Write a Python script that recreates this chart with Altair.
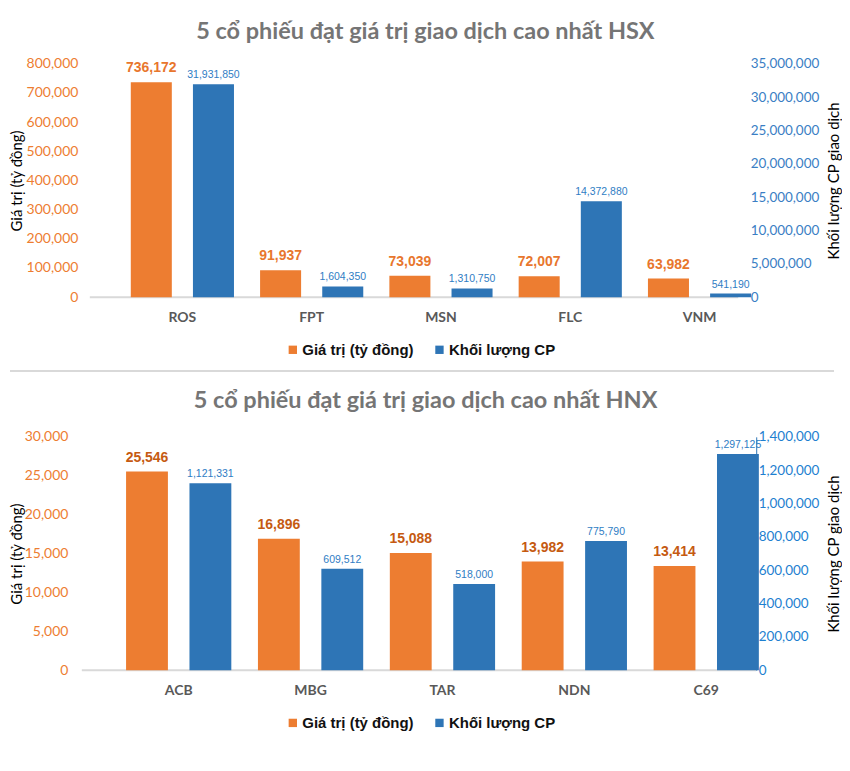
import altair as alt
import pandas as pd

series = ["Giá trị (tỷ đồng)", "Khối lượng CP"]

hsx_title = "5 cổ phiếu đạt giá trị giao dịch cao nhất HSX"
hsx_codes = ["ROS", "FPT", "MSN", "FLC", "VNM"]
hsx_value = [736172, 91937, 73039, 72007, 63982]
hsx_volume = [31931850, 1604350, 1310750, 14372880, 541190]

hnx_title = "5 cổ phiếu đạt giá trị giao dịch cao nhất HNX"
hnx_codes = ["ACB", "MBG", "TAR", "NDN", "C69"]
hnx_value = [25546, 16896, 15088, 13982, 13414]
hnx_volume = [1121331, 609512, 518000, 775790, 1297125]

ORANGE = "#ED7D31"
BLUE = "#2E75B6"
LABELFONT = "Liberation Sans"


def panel(title, codes, values, volumes, vmax, vstep, qmax, qstep, width,
          xrange, base_x0, vlabel_color, qaxis_color, right_domain,
          lpad, tpad, rpad, toffset, sep):
    df_v = pd.DataFrame({"code": codes, "series": series[0], "val": values})
    df_q = pd.DataFrame({"code": codes, "series": series[1], "val": volumes})

    x = alt.X("code:N", sort=codes,
              scale=alt.Scale(paddingInner=0, paddingOuter=0, range=xrange),
              axis=alt.Axis(title=None, labelAngle=0, ticks=False,
                            domain=False,
                            labelFont="Lato", labelFontWeight="bold",
                            labelFontSize=14, labelColor="#595959",
                            labelPadding=13))
    xo = alt.XOffset("series:N", sort=series,
                     scale=alt.Scale(domain=series, paddingInner=0.34,
                                     paddingOuter=0.21))
    color = alt.Color("series:N",
                      scale=alt.Scale(domain=series, range=[ORANGE, BLUE]),
                      legend=alt.Legend(title=None, orient="none",
                                        direction="horizontal",
                                        legendX=196, legendY=279,
                                        symbolType="square", symbolSize=70,
                                        symbolStrokeWidth=0,
                                        labelFont="Liberation Sans",
                                        labelFontWeight="bold",
                                        labelFontSize=15, labelColor="#111111",
                                        columnPadding=18, labelOffset=2))

    yv = alt.Y("val:Q", scale=alt.Scale(domain=[0, vmax], nice=False),
               axis=alt.Axis(title="Giá trị (tỷ đồng)", orient="left",
                             values=list(range(0, vmax + 1, vstep)),
                             format=",.0f", grid=False, ticks=False, domain=False,
                             labelColor=ORANGE, labelFont="Lato",
                             labelFontSize=14, labelPadding=lpad,
                             titleFont="Lato", titleFontSize=15,
                             titleFontWeight="normal", titleColor="#000000",
                             titlePadding=tpad))
    yq = alt.Y("val:Q", scale=alt.Scale(domain=[0, qmax], nice=False),
               axis=alt.Axis(title="Khối lượng CP giao dịch", orient="right",
                             values=list(range(0, qmax + 1, qstep)),
                             format=",.0f", grid=False, ticks=False,
                             domain=right_domain, domainColor=BLUE,
                             labelColor=qaxis_color, labelFont="Lato",
                             labelFontSize=13.5, labelPadding=rpad,
                             titleFont="Lato", titleFontSize=15,
                             titleFontWeight="normal", titleColor="#000000",
                             titleAngle=270, titleBaseline="top",
                             titlePadding=8))

    bars_v = alt.Chart(df_v).mark_bar().encode(x=x, xOffset=xo, y=yv, color=color)
    text_v = alt.Chart(df_v).mark_text(
        baseline="bottom", dy=-7, font=LABELFONT, fontSize=14, fontWeight="bold",
        color=vlabel_color).encode(x=x, xOffset=xo, y=yv,
                                   text=alt.Text("val:Q", format=",.0f"))
    bars_q = alt.Chart(df_q).mark_bar().encode(x=x, xOffset=xo, y=yq, color=color)
    text_q = alt.Chart(df_q).mark_text(
        baseline="bottom", dy=-4, font=LABELFONT, fontSize=10.5,
        color="#2F7DC4").encode(x=x, xOffset=xo, y=yq,
                                text=alt.Text("val:Q", format=",.0f"))

    base = alt.Chart(pd.DataFrame({"a": [0]})).mark_rule(
        color="#D9D9D9", strokeWidth=2).encode(
        x=alt.value(base_x0), x2=alt.value(width), y=alt.value(234))

    layers = [base, alt.layer(bars_v, text_v), alt.layer(bars_q, text_q)]
    if sep:
        rule = alt.Chart(pd.DataFrame({"a": [0]})).mark_rule(
            color="#D9D9D9", strokeWidth=2).encode(
            x=alt.value(-80), x2=alt.value(width + 96), y=alt.value(308))
        layers.append(rule)

    return alt.layer(*layers).resolve_scale(y="independent").properties(
        width=width, height=234,
        title=alt.TitleParams(title, anchor="middle", frame="bounds",
                              font="Lato", fontSize=23.5, fontWeight="bold",
                              color="#757575", offset=toffset))


p1 = panel(hsx_title, hsx_codes, hsx_value, hsx_volume, 800000, 100000,
           35000000, 5000000, 650, [28, 676], 0, "#E8762D", "#3A7EC4", False,
           12, 2, 12, 13, True)
p2 = panel(hnx_title, hnx_codes, hnx_value, hnx_volume, 30000, 5000,
           1400000, 200000, 668, [23, 684], -8, "#C55A11", "#1E7FD0", True,
           22, 0, 2, 17, False)

chart = alt.vconcat(p1, p2, spacing=17).resolve_scale(
    color="independent", x="independent", xOffset="independent"
).resolve_legend(color="independent").properties(
    padding={"left": 1, "top": 11, "right": 0, "bottom": 0}
).configure_view(stroke=None)

chart.save("out.html", embed_options={"renderer": "svg", "actions": False})
